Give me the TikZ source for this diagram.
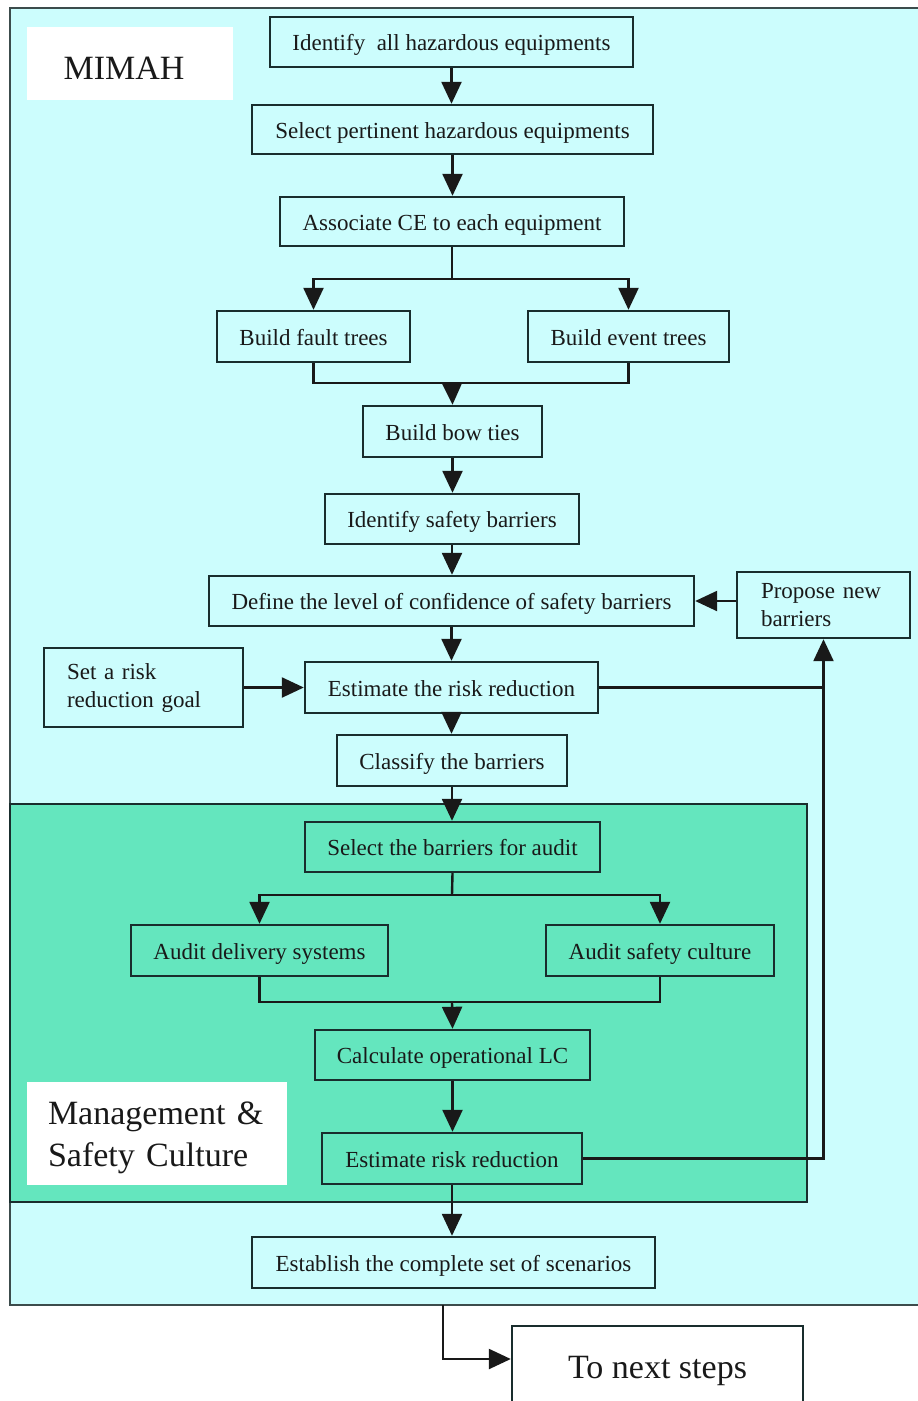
\documentclass[tikz,border=0pt]{standalone}
\usepackage{fontspec}
\setmainfont{Liberation Serif}
\usetikzlibrary{arrows.meta,calc}
\definecolor{outerfill}{RGB}{204,253,253}
\definecolor{innerfill}{RGB}{100,230,190}
\definecolor{edge}{RGB}{25,45,45}
\begin{document}
\begin{tikzpicture}[x=1pt,y=-1pt,
 box/.style={draw=edge, line width=2.4pt, inner sep=0pt, align=center,
   font=\fontsize{23}{28}\selectfont, text=black!90, text height=19pt, text depth=2pt},
 label/.style={inner sep=0pt, text=black!90},
 arr/.style={draw=black!90, line width=2.4pt, -{Triangle[length=22pt,width=20pt]}},
 ln/.style={draw=black!90, line width=2.4pt}]
\useasboundingbox (0,0) rectangle (918,1401);
\fill[white] (0,0) rectangle (918,1401);
% frames
\draw[fill=outerfill, draw=edge!85, line width=2.6pt] (10,8) rectangle (926,1305);
\draw[fill=innerfill, draw=edge, line width=2.6pt] (10,804) rectangle (807,1202);
\coordinate (o1) at (443,1305);
% labels
\fill[white] (27,27) rectangle (233,100);
\node[label, font=\fontsize{34}{40}\selectfont] (mimah) at (124,68) {MIMAH};
\fill[white] (27,1082) rectangle (287,1185);
\node[label, text width=218pt, align=left,
  font=\fontsize{34}{42}\selectfont] (msc) at (157,1138) {Management \&\\Safety Culture};
% boxes
\node[box, minimum width=363pt, minimum height=50pt] (n1) at (451.5,42) {Identify \ all hazardous equipments};
\node[box, minimum width=401pt, minimum height=49pt] (n2) at (452.5,129.5) {Select pertinent hazardous equipments};
\node[box, minimum width=344pt, minimum height=49pt] (n3) at (452,221.5) {Associate CE to each equipment};
\node[box, minimum width=193pt, minimum height=51pt] (n4) at (313.5,336.5) {Build fault trees};
\node[box, minimum width=201pt, minimum height=51pt] (n5) at (628.5,336.5) {Build event trees};
\node[box, minimum width=179pt, minimum height=51pt] (n6) at (452.5,431.5) {Build bow ties};
\node[box, minimum width=254pt, minimum height=50pt] (n7) at (452,519) {Identify safety barriers};
\node[box, minimum width=485pt, minimum height=50pt] (n8) at (451.5,601) {Define the level of confidence of safety barriers};
\node[box, minimum height=66pt, inner xsep=24pt, text width=125pt, align=left, text height=, text depth=] (n9) at (823.5,605) {Propose new\\barriers};
\node[box, minimum height=79pt, inner xsep=23pt, text width=153pt, align=left, text height=, text depth=] (n10) at (143.5,687.5) {Set a risk\\reduction goal};
\node[box, minimum width=293pt, minimum height=51pt] (n11) at (451.5,687.5) {Estimate the risk reduction};
\node[box, minimum width=230pt, minimum height=51pt] (n12) at (452,760.5) {Classify the barriers};
\node[box, minimum width=295pt, minimum height=50pt] (n13) at (452.5,847) {Select the barriers for audit};
\node[box, minimum width=257pt, minimum height=51pt] (n14) at (259.5,950.5) {Audit delivery systems};
\node[box, minimum width=228pt, minimum height=51pt] (n15) at (660,950.5) {Audit safety culture};
\node[box, minimum width=275pt, minimum height=50pt] (n16) at (452.5,1055) {Calculate operational LC};
\node[box, minimum width=260pt, minimum height=51pt] (n17) at (452,1158.5) {Estimate risk reduction};
\node[box, minimum width=403pt, minimum height=51pt] (n18) at (453.5,1262.5) {Establish the complete set of scenarios};
\node[box, fill=white, minimum width=291pt, minimum height=90pt, font=\fontsize{34}{40}\selectfont, text height=, text depth=] (n19) at (657.5,1371) {To next steps};
% connectors
\draw[arr] (n1.south) -- (n1.south |- n2.north);
\draw[arr] (n2.south) -- (n2.south |- n3.north);
\coordinate (s1) at (452,279);
\draw[ln] (n3.south) -- (s1);
\draw[arr] (s1) -| (n4.north);
\draw[arr] (s1) -| (n5.north);
\coordinate (m1) at (452,383);
\draw[ln] (n4.south) |- (m1) -| (n5.south);
\draw[arr] (m1) -- (n6.north);
\draw[arr] (n6.south) -- (n6.south |- n7.north);
\draw[arr] (n7.south) -- (n7.south |- n8.north);
\draw[arr] (n8.south) -- (n8.south |- n11.north);
\draw[arr] (n11.south) -- (n11.south |- n12.north);
\draw[arr] (n12.south) -- (n12.south |- n13.north);
\draw[arr] (n10.east) -- (n11.west);
\draw[arr] (n9.west |- n8.east) -- (n8.east);
\draw[ln] (n11.east) -- (n11.east -| n9.south);
\draw[arr] (n17.east) -| (n9.south);
\coordinate (s2) at (452,895);
\draw[ln] (n13.south) -- (s2);
\draw[arr] (s2) -| (n14.north);
\draw[arr] (s2) -| (n15.north);
\coordinate (m2) at (452,1002);
\draw[ln] (n14.south) |- (m2) -| (n15.south);
\draw[arr] (m2) -- (n16.north);
\draw[arr] (n16.south) -- (n16.south |- n17.north);
\draw[arr] (n17.south) -- (n17.south |- n18.north);
\draw[arr] (o1) |- ([yshift=12pt]n19.west);
\end{tikzpicture}
\end{document}
